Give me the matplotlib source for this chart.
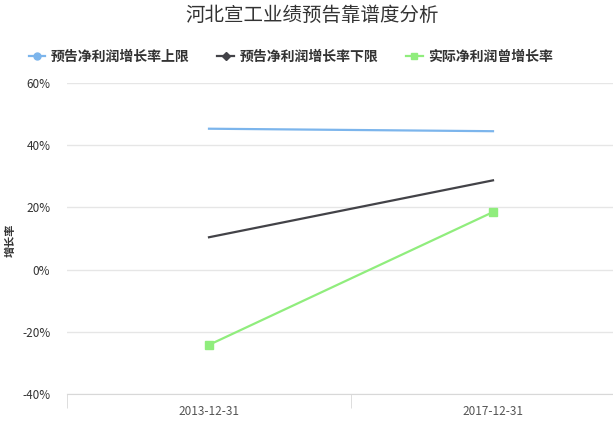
import numpy as np
import matplotlib.pyplot as plt
from matplotlib.lines import Line2D
from matplotlib.ticker import FuncFormatter

plt.rcParams['font.family'] = ['Noto Sans CJK SC', 'DejaVu Sans']

# dados
datas = ['2013-12-31', '2017-12-31']
limite_superior = [45.3, 44.5]
limite_inferior = [10.4, 28.7]
crescimento_real = [-24.2, 18.5]
series = ['预告净利润增长率上限', '预告净利润增长率下限', '实际净利润曾增长率']

cor_azul = '#7cb5ec'
cor_preta = '#434348'
cor_verde = '#90ed7d'

fig = plt.figure(figsize=(6.13, 4.24), dpi=100)
W, H = 613, 424
# area do grafico em pixels (o eixo vai além da borda direita)
x0, x1, y0, y1 = 67, 635, 394, 83
ax = fig.add_axes([x0 / W, 1 - y0 / H, (x1 - x0) / W, (y0 - y1) / H])

x = np.arange(len(datas))
ax.plot(x, limite_superior, color=cor_azul, linewidth=1.6, zorder=3)
ax.plot(x, limite_inferior, color=cor_preta, linewidth=1.6, zorder=3)
ax.plot(x, crescimento_real, color=cor_verde, linewidth=1.6, marker='s',
        markersize=6, zorder=3)

ax.set_xlim(-0.5, len(datas) - 0.5)
ax.set_ylim(-40, 60)
ax.set_yticks([-40, -20, 0, 20, 40, 60])
ax.yaxis.set_major_formatter(FuncFormatter(lambda v, p: f'{v:.0f}%'))
ax.set_xticks(x)
ax.set_xticklabels(datas)
ax.set_xticks(np.arange(-0.5, len(datas)), minor=True)

ax.grid(axis='y', color='#e6e6e6', linewidth=1)
ax.set_axisbelow(True)
for lado in ['top', 'right', 'left']:
    ax.spines[lado].set_visible(False)
ax.spines['bottom'].set_color('#d8d8d8')
ax.tick_params(axis='y', length=0, labelsize=8.5, labelcolor='#333333', pad=12)
ax.tick_params(axis='x', which='major', length=0, labelsize=8.5,
               labelcolor='#555555', pad=8)
ax.tick_params(axis='x', which='minor', length=10, color='#d8d8d8')

fig.text(10 / W, 1 - 240 / H, '增长率', rotation=90, fontsize=8, color='#333333',
         ha='center', va='center', fontweight='bold')
fig.text(312 / W, 1 - 15 / H, '河北宣工业绩预告靠谱度分析', fontsize=14,
         color='#333333', ha='center', va='center')

handles = [
    Line2D([], [], color=cor_azul, linewidth=1.6, marker='o', markersize=5),
    Line2D([], [], color=cor_preta, linewidth=1.6, marker='D', markersize=4),
    Line2D([], [], color=cor_verde, linewidth=1.6, marker='s', markersize=5),
]
fig.legend(handles, series, loc='center left', bbox_to_anchor=(16 / W, 1 - 57 / H),
           ncol=3, frameon=False, handlelength=1.2, handletextpad=0.4,
           columnspacing=2.0, prop={'size': 10, 'weight': 'bold'},
           labelcolor='#333333')

plt.savefig('out.png', dpi=100)
